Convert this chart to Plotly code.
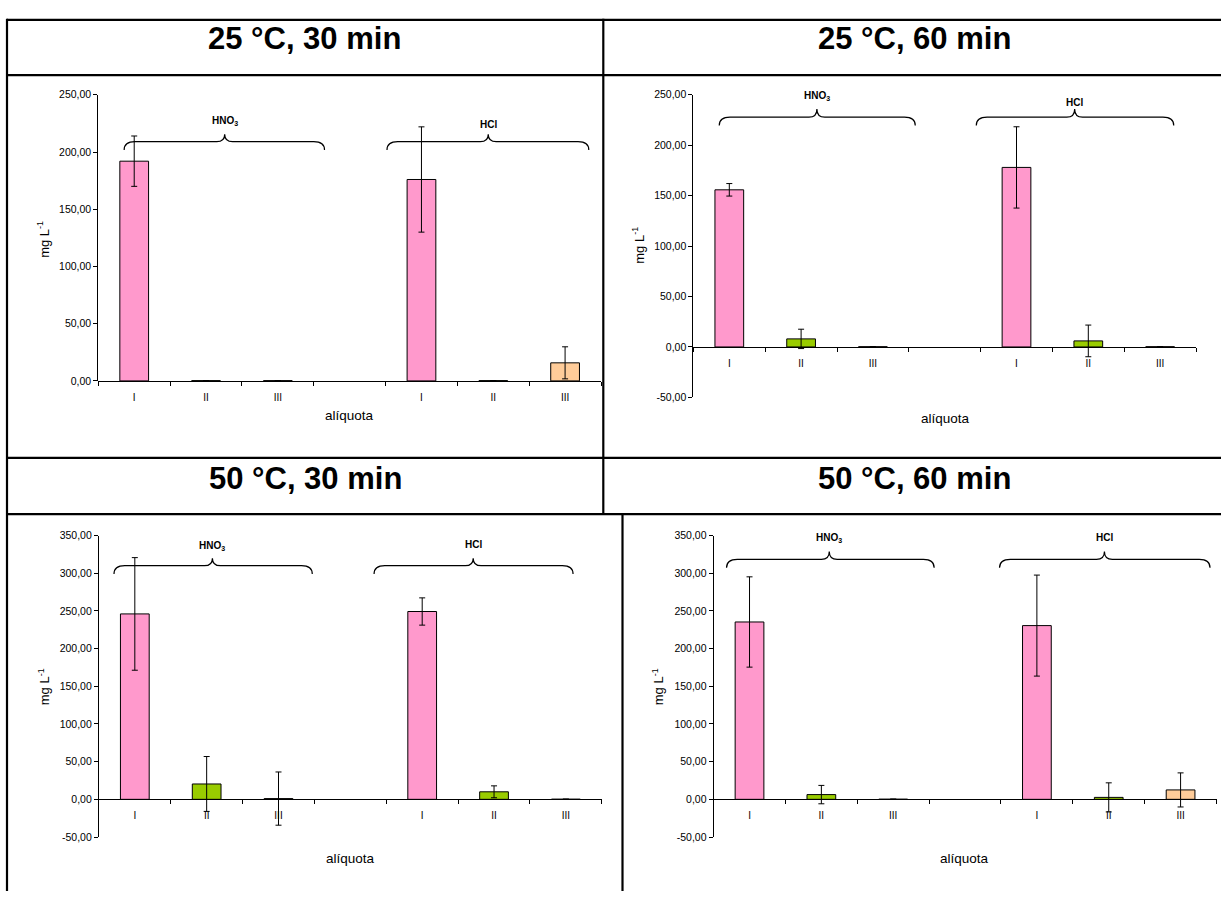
import plotly.graph_objects as go

W, H = 1221, 897

# ---- data -------------------------------------------------------------
aliquots = ["I", "II", "III"]
acids = ["HNO<sub>3</sub>", "HCl"]
bar_colors = ["#FF99CC", "#99CC00", "#FFCC99"]

panel_titles = ["25 °C, 30 min", "25 °C, 60 min", "50 °C, 30 min", "50 °C, 60 min"]

# concentration (mg L-1), order: HNO3 I, II, III, HCl I, II, III
conc_25_30 = [192.0, 0.2, 0.2, 176.0, 0.2, 15.8]
err_25_30 = [22.0, None, None, 46.0, None, 14.0]
conc_25_60 = [155.8, 8.0, 0.2, 178.0, 6.0, 0.2]
err_25_60 = [6.2, 9.6, None, 40.3, 15.7, None]
conc_50_30 = [246.0, 20.4, 1.0, 249.2, 10.0, 0.2]
err_50_30 = [74.7, 36.4, 35.3, 18.1, 7.9, None]
conc_50_60 = [235.3, 6.3, 0.2, 230.5, 2.6, 12.5]
err_50_60 = [59.9, 12.2, None, 67.0, 19.3, 22.6]

y_ranges = [(0, 250), (-50, 250), (-50, 350), (-50, 350)]
y_step = 50

# ---- page geometry (pixels) -----------------------------------------
# plot boxes: x0, x1, y_top, y_bottom
boxes = [
    (98.3, 601.0, 90.0, 380.0),
    (693.4, 1196.0, 90.0, 396.7),
    (98.9, 601.8, 536.7, 842.3),
    (713.6, 1216.5, 536.7, 842.3),
]
title_pos = [(304.5, 33), (914.4, 33), (305.3, 479), (914.6, 479)]
ytitle_pos = [(43, 237), (638, 243), (43.5, 690), (657.5, 690)]
xtitle_pos = [(349, 415), (945, 418), (350, 864), (964.8, 864)]

# braces: (left, right, tip x, y end, y flat, y tip, label y) in axis units
braces = [
    [(-0.14, 2.65, 1.26, 201.7, 209.0, 215.5, 227.0),
     (3.52, 6.33, 4.93, 201.7, 209.0, 215.5, 224.0)],
    [(-0.14, 2.59, 1.22, 219.6, 227.8, 236.0, 249.0),
     (3.44, 6.19, 4.81, 219.6, 227.8, 236.0, 242.8)],
    [(-0.29, 2.47, 1.08, 298.8, 310.0, 320.0, 336.7),
     (3.33, 6.10, 4.71, 298.8, 310.0, 320.0, 337.6)],
    [(-0.32, 2.57, 1.11, 307.2, 318.4, 328.9, 346.4),
     (3.48, 6.41, 4.94, 307.2, 318.4, 328.9, 347.7)],
]

concs = [conc_25_30, conc_25_60, conc_50_30, conc_50_60]
errs = [err_25_30, err_25_60, err_50_30, err_50_60]


def px(x):
    return x / W


def py(y):
    return 1 - y / H


def fmt_tick(v):
    # comma decimal separator, plain hyphen for negatives
    return f"{v:.2f}".replace(".", ",")


FONT = "Liberation Sans, Arial, sans-serif"
fig = go.Figure()
shapes = []
annotations = []

# category slots: three aliquots per acid, one empty slot between acids
positions = [0, 1, 2, 4, 5, 6]
labels = aliquots + aliquots
colors = bar_colors + bar_colors

for k in range(4):
    sfx = "" if k == 0 else str(k + 1)
    xa, ya = "x" + sfx, "y" + sfx
    x0, x1, yt, yb = boxes[k]
    lo, hi = y_ranges[k]
    dom_y = [py(yb), py(yt)]
    zero_pos = dom_y[0] + (0 - lo) / (hi - lo) * (dom_y[1] - dom_y[0])
    yticks = list(range(lo, hi + 1, y_step))

    fig.add_trace(go.Bar(
        x=positions, y=concs[k], width=0.4,
        marker=dict(color=colors, line=dict(color="#000000", width=1)),
        error_y=dict(type="data", array=errs[k], visible=True,
                     color="#000000", thickness=1, width=3),
        xaxis=xa, yaxis=ya, showlegend=False, hoverinfo="skip",
    ))

    fig.layout["xaxis" + sfx] = dict(
        domain=[px(x0), px(x1)], range=[-0.5, 6.5], anchor="free",
        position=zero_pos, showline=True, linecolor="#000000", linewidth=1,
        showgrid=False, zeroline=False, tickmode="array",
        tickvals=positions, ticktext=labels, ticks="",
        ticklabelstandoff=7,
        tickfont=dict(family=FONT, size=10, color="#000000"),
        minor=dict(tickmode="array", tickvals=[i - 0.5 for i in range(8)],
                   ticks="outside", ticklen=4, tickcolor="#000000",
                   tickwidth=1, showgrid=False),
    )
    fig.layout["yaxis" + sfx] = dict(
        domain=dom_y, range=[lo, hi], anchor=xa, showline=True,
        linecolor="#000000", linewidth=1, showgrid=False, zeroline=False,
        tickmode="array", tickvals=yticks,
        ticktext=[fmt_tick(v) for v in yticks],
        ticks="outside", ticklen=4, tickcolor="#000000",
        tickfont=dict(family=FONT, size=10.5, color="#000000"),
    )

    # group braces with acid labels
    for (bl, br, bm, ye, yf, ytp, ly), acid in zip(braces[k], acids):
        r1, r2 = 0.15, 0.11
        path = (f"M {bl},{ye} Q {bl},{yf} {bl + r1},{yf} "
                f"L {bm - r2},{yf} Q {bm},{yf} {bm},{ytp} "
                f"Q {bm},{yf} {bm + r2},{yf} "
                f"L {br - r1},{yf} Q {br},{yf} {br},{ye}")
        shapes.append(dict(type="path", path=path, xref=xa, yref=ya,
                           line=dict(color="#000000", width=1.2)))
        annotations.append(dict(
            x=bm, y=ly, xref=xa, yref=ya, text=f"<b>{acid}</b>",
            showarrow=False, xanchor="center", yanchor="middle",
            font=dict(family=FONT, size=10, color="#000000")))

    tx, ty = title_pos[k]
    annotations.append(dict(
        x=px(tx), y=py(ty), xref="paper", yref="paper",
        text=f"<b>{panel_titles[k]}</b>", showarrow=False,
        xanchor="center", yanchor="middle",
        font=dict(family=FONT, size=31, color="#000000")))
    ax_, ay_ = ytitle_pos[k]
    annotations.append(dict(
        x=px(ax_), y=py(ay_), xref="paper", yref="paper",
        text="mg L<sup>-1</sup>", textangle=-90, showarrow=False,
        xanchor="center", yanchor="middle",
        font=dict(family=FONT, size=13, color="#000000")))
    bx_, by_ = xtitle_pos[k]
    annotations.append(dict(
        x=px(bx_), y=py(by_), xref="paper", yref="paper",
        text="alíquota", showarrow=False,
        xanchor="center", yanchor="middle",
        font=dict(family=FONT, size=13.5, color="#000000")))

# table rules
rule = dict(color="#000000", width=2.2)
for yy in (14, 70, 458, 515):
    shapes.append(dict(type="line", xref="paper", yref="paper",
                       x0=px(7), x1=1, y0=py(yy), y1=py(yy), line=rule))
shapes.append(dict(type="line", xref="paper", yref="paper",
                   x0=px(7), x1=px(7), y0=py(13), y1=0, line=rule))
shapes.append(dict(type="line", xref="paper", yref="paper",
                   x0=px(603.3), x1=px(603.3), y0=py(13), y1=py(516), line=rule))
shapes.append(dict(type="line", xref="paper", yref="paper",
                   x0=px(622.5), x1=px(622.5), y0=py(514), y1=0, line=rule))

fig.update_layout(
    width=W, height=H, margin=dict(l=0, r=0, t=0, b=0),
    paper_bgcolor="#FFFFFF", plot_bgcolor="#FFFFFF",
    shapes=shapes, annotations=annotations,
    bargap=0.6, font=dict(family=FONT, color="#000000"),
)

fig.write_html("out.html")
